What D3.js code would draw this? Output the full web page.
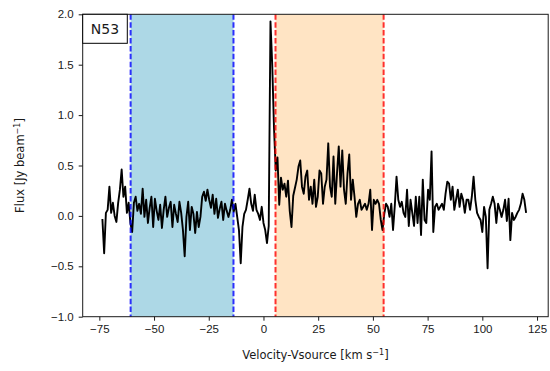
<!DOCTYPE html>
<html>
<head>
<meta charset="utf-8">
<script src="https://cdn.jsdelivr.net/npm/d3@7"></script>
<style>
  body { margin: 0; background: #fff; }
  svg { display: block; font-family: "DejaVu Sans", sans-serif; }
  .axis text { font-size: 11.5px; fill: #1a1a1a; }
  .axis line { stroke: #1a1a1a; }
  .axisLabel { font-size: 11.5px; fill: #1a1a1a; }
</style>
</head>
<body>
<div id="chart"></div>
<script>
// spectrum N53: channel grid + flux per channel
const v0 = -73.6;
const dv = 0.8;
const flux = [
  -0.03, -0.37, 0.03, 0.06, 0.29, 0.03, 0.13, 0.00, -0.06, 0.13,
  0.26, 0.46, 0.19, 0.29, 0.03, 0.13, -0.07, -0.16, 0.13, 0.19,
  0.05, 0.12, 0.02, 0.27, -0.01, 0.16, -0.07, 0.08, 0.19, -0.11,
  0.17, 0.05, -0.04, 0.11, -0.12, 0.06, 0.19, -0.01, 0.08, 0.14,
  -0.11, 0.11, 0.02, -0.06, 0.14, 0.03, -0.14, -0.40, -0.01, 0.14,
  -0.14, 0.09, 0.02, -0.17, 0.04, -0.11, -0.01, 0.19, 0.24, 0.15,
  0.26, 0.16, 0.08, 0.21, 0.02, 0.17, -0.02, 0.07, 0.14, -0.04,
  0.12, 0.05, -0.01, 0.06, 0.16, 0.04, 0.12, -0.01, -0.14, -0.47,
  -0.11, 0.02, 0.06, 0.16, 0.27, 0.12, 0.05, 0.21, 0.06, 0.02,
  -0.04, 0.09, -0.07, -0.14, -0.27, -0.10, 1.93, 1.50, 0.88, 0.45,
  0.58, 0.11, 0.38, 0.26, 0.32, 0.19, 0.35, 0.05, -0.11, 0.20,
  0.28, 0.36, 0.49, 0.55, 0.29, 0.22, 0.39, 0.45, 0.16, 0.29,
  0.12, 0.36, 0.09, 0.19, 0.45, 0.42, 0.12, 0.29, 0.36, 0.72,
  0.29, 0.19, 0.59, 0.12, 0.42, 0.69, 0.29, 0.65, 0.26, 0.12,
  0.42, 0.61, 0.16, 0.36, 0.19, -0.01, 0.12, 0.16, 0.06, 0.09,
  0.12, 0.06, 0.12, 0.26, -0.14, 0.16, 0.12, 0.16, 0.12, -0.04,
  -0.14, 0.02, 0.12, 0.09, -0.01, 0.12, -0.14, 0.10, 0.39, 0.16,
  0.09, 0.14, 0.03, -0.01, 0.26, -0.10, 0.16, 0.03, -0.10, 0.19,
  -0.07, 0.19, -0.19, 0.36, -0.04, -0.07, 0.26, 0.16, 0.64, -0.16,
  0.09, 0.12, 0.06, 0.09, 0.12, 0.06, 0.22, 0.34, 0.32, 0.16,
  0.29, 0.06, 0.16, 0.26, 0.09, 0.22, 0.16, 0.03, 0.16, 0.16,
  0.06, 0.19, 0.39, 0.16, 0.03, -0.01, -0.04, -0.16, 0.09, -0.01,
  -0.52, 0.06, 0.12, 0.19, 0.12, -0.07, 0.12, 0.06, -0.01, 0.06,
  0.16, -0.05, 0.17, -0.24, 0.03, -0.04, -0.01, 0.03, 0.06, 0.12,
  0.22, 0.16, 0.03
];

// shaded velocity windows
const blueWindow = [-60.7, -13.7];
const redWindow = [5.5, 54.9];

const xTicks = [-75, -50, -25, 0, 25, 50, 75, 100, 125];
const yTicks = [-1.0, -0.5, 0.0, 0.5, 1.0, 1.5, 2.0];

const sourceName = "N53";

const width = 550, height = 371;
const margin = {top: 14.3, left: 82.7, right: 1.8, bottom: 54.3};

const svg = d3.select("#chart")
  .append("svg")
  .attr("width", width)
  .attr("height", height);

const data = flux.map((f, i) => ({v: v0 + i * dv, f: f}));

const xScale = d3.scaleLinear()
  .domain([-82.6, 130.1])
  .range([margin.left, width - margin.right]);

const yScale = d3.scaleLinear()
  .domain([-1, 2])
  .range([height - margin.bottom, margin.top]);

const minus = s => s.replace("-", "\u2212");

// shaded windows
svg.append("rect")
  .attr("x", xScale(blueWindow[0]))
  .attr("y", yScale(2))
  .attr("width", xScale(blueWindow[1]) - xScale(blueWindow[0]))
  .attr("height", yScale(-1) - yScale(2))
  .attr("fill", "#add8e6");

svg.append("rect")
  .attr("x", xScale(redWindow[0]))
  .attr("y", yScale(2))
  .attr("width", xScale(redWindow[1]) - xScale(redWindow[0]))
  .attr("height", yScale(-1) - yScale(2))
  .attr("fill", "#ffe4c4");

// spectrum
const line = d3.line()
  .x(d => xScale(d.v))
  .y(d => yScale(d.f));

svg.append("path")
  .datum(data)
  .attr("d", line)
  .attr("fill", "none")
  .attr("stroke", "#000")
  .attr("stroke-width", 1.9)
  .attr("stroke-linejoin", "round");

// dashed window edges
const edges = [
  {v: blueWindow[0], c: "#0000ff"},
  {v: blueWindow[1], c: "#0000ff"},
  {v: redWindow[0], c: "#ff0000"},
  {v: redWindow[1], c: "#ff0000"}
];
svg.selectAll(".edge")
  .data(edges)
  .enter()
  .append("line")
    .attr("class", "edge")
    .attr("x1", d => xScale(d.v))
    .attr("x2", d => xScale(d.v))
    .attr("y1", yScale(2))
    .attr("y2", yScale(-1))
    .attr("stroke", d => d.c)
    .attr("stroke-opacity", 0.8)
    .attr("stroke-width", 2)
    .attr("stroke-dasharray", "5.5,2.4");

// axes
const xAxis = svg.append("g")
  .attr("class", "axis")
  .attr("transform", `translate(0,${height - margin.bottom})`)
  .call(d3.axisBottom(xScale).tickValues(xTicks).tickSize(4).tickPadding(4)
    .tickFormat(d => minus(d3.format("d")(d))));
xAxis.select(".domain").remove();

const yAxis = svg.append("g")
  .attr("class", "axis")
  .attr("transform", `translate(${margin.left},0)`)
  .call(d3.axisLeft(yScale).tickValues(yTicks).tickSize(4).tickPadding(5)
    .tickFormat(d => minus(d3.format(".1f")(d))));
yAxis.select(".domain").remove();

// frame
svg.append("rect")
  .attr("x", margin.left)
  .attr("y", margin.top)
  .attr("width", width - margin.right - margin.left)
  .attr("height", height - margin.bottom - margin.top)
  .attr("fill", "none")
  .attr("stroke", "#1a1a1a")
  .attr("stroke-width", 1);

// source label box
svg.append("rect")
  .attr("x", margin.left)
  .attr("y", margin.top)
  .attr("width", 44.6)
  .attr("height", 29)
  .attr("fill", "#fff")
  .attr("stroke", "#000")
  .attr("stroke-width", 1);

svg.append("text")
  .attr("x", margin.left + 22.3)
  .attr("y", margin.top + 14.5)
  .attr("dy", "0.36em")
  .attr("text-anchor", "middle")
  .style("font-size", "14px")
  .style("fill", "#1a1a1a")
  .text(sourceName);

// axis labels
const xLabel = svg.append("text")
  .attr("class", "axisLabel")
  .attr("x", (margin.left + width - margin.right) / 2)
  .attr("y", 359)
  .attr("text-anchor", "middle");
xLabel.append("tspan").text("Velocity-Vsource [km s");
xLabel.append("tspan").attr("dy", -4.5).style("font-size", "8px").text("\u22121");
xLabel.append("tspan").attr("dy", 4.5).text("]");

const yLabel = svg.append("text")
  .attr("class", "axisLabel")
  .attr("transform", `translate(24,${(margin.top + height - margin.bottom) / 2}) rotate(-90)`)
  .attr("text-anchor", "middle");
yLabel.append("tspan").text("Flux [Jy beam");
yLabel.append("tspan").attr("dy", -4.5).style("font-size", "8px").text("\u22121");
yLabel.append("tspan").attr("dy", 4.5).text("]");
</script>
</body>
</html>
